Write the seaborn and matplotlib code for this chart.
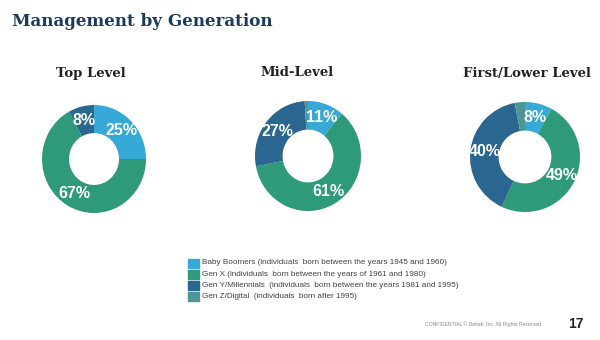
import numpy as np
import pandas as pd
import matplotlib
matplotlib.use("Agg")
import matplotlib.pyplot as plt
import seaborn as sns

levels = ["Top Level", "Mid-Level", "First/Lower Level"]
generations = [
    "Baby Boomers (individuals  born between the years 1945 and 1960)",
    "Gen X (individuals  born between the years of 1961 and 1980)",
    "Gen Y/Millennials  (individuals  born between the years 1981 and 1995)",
    "Gen Z/Digital  (individuals  born after 1995)",
]
top_level = [25, 67, 8, 0]
mid_level = [11, 61, 27, 1]
first_level = [8, 49, 40, 3]
colors = ["#36A9D6", "#2E9A7A", "#2A6690", "#4E9595"]

df = pd.DataFrame({"generation": generations, "Top Level": top_level,
                   "Mid-Level": mid_level, "First/Lower Level": first_level})

sns.set_theme(style="white")
plt.rcParams["font.family"] = ["Liberation Sans", "DejaVu Sans"]

W, H = 600, 340
fig = plt.figure(figsize=(6, 3.4), dpi=100)
fig.patch.set_facecolor("white")

fig.text(12 / W, 1 - 21 / H, "Management by Generation", fontsize=12.1,
         fontweight="bold", family="DejaVu Serif", color="#1B3A5C",
         va="center", ha="left")

centers = [(94, 159), (308, 156), (525, 157)]
radii = [(52, 54), (53, 55), (55, 55)]
title_x = [91, 297, 527]
for lvl, (cx, cy), (rx, ry), tx in zip(levels, centers, radii, title_x):
    fig.text(tx / W, 1 - 73 / H, lvl, fontsize=9.5, fontweight="bold",
             family="DejaVu Serif", color="#222222", ha="center", va="center")
    ax = fig.add_axes([(cx - rx) / W, 1 - (cy + ry) / H, 2 * rx / W, 2 * ry / H])
    vals = df[lvl].to_numpy()
    ax.pie(vals, colors=colors, startangle=90, counterclock=False,
           radius=1, wedgeprops=dict(width=0.52, linewidth=0))
    ax.set_xlim(-1, 1)
    ax.set_ylim(-1, 1)
    ax.set_aspect("auto")
    ax.axis("off")
    cum = np.cumsum(vals) - vals / 2
    for v, c in zip(vals, cum):
        if v < 5:
            continue
        ang = np.deg2rad(90 - 360 * c / vals.sum())
        rr = 0.74
        ax.text(rr * np.cos(ang), rr * np.sin(ang), f"{v}%", color="white",
                fontsize=11.5, fontweight="bold", ha="center", va="center")

# legend
for i, (g, col) in enumerate(zip(generations, colors)):
    y = 263 + i * 11.3
    fig.patches.append(plt.Rectangle((188 / W, 1 - (y + 4.5) / H), 11 / W, 9 / H,
                                     transform=fig.transFigure, color=col))
    fig.text(202 / W, 1 - y / H, g, fontsize=5.9, color="#444444",
             ha="left", va="center")

fig.text(425 / W, 1 - 324 / H, "CONFIDENTIAL © Deltek, Inc. All Rights Reserved",
         fontsize=3.7, color="#888888", ha="left", va="center")
fig.text(576 / W, 1 - 324 / H, "17", fontsize=10, fontweight="bold",
         color="#222222", ha="center", va="center")

fig.savefig("out.png", dpi=100)
